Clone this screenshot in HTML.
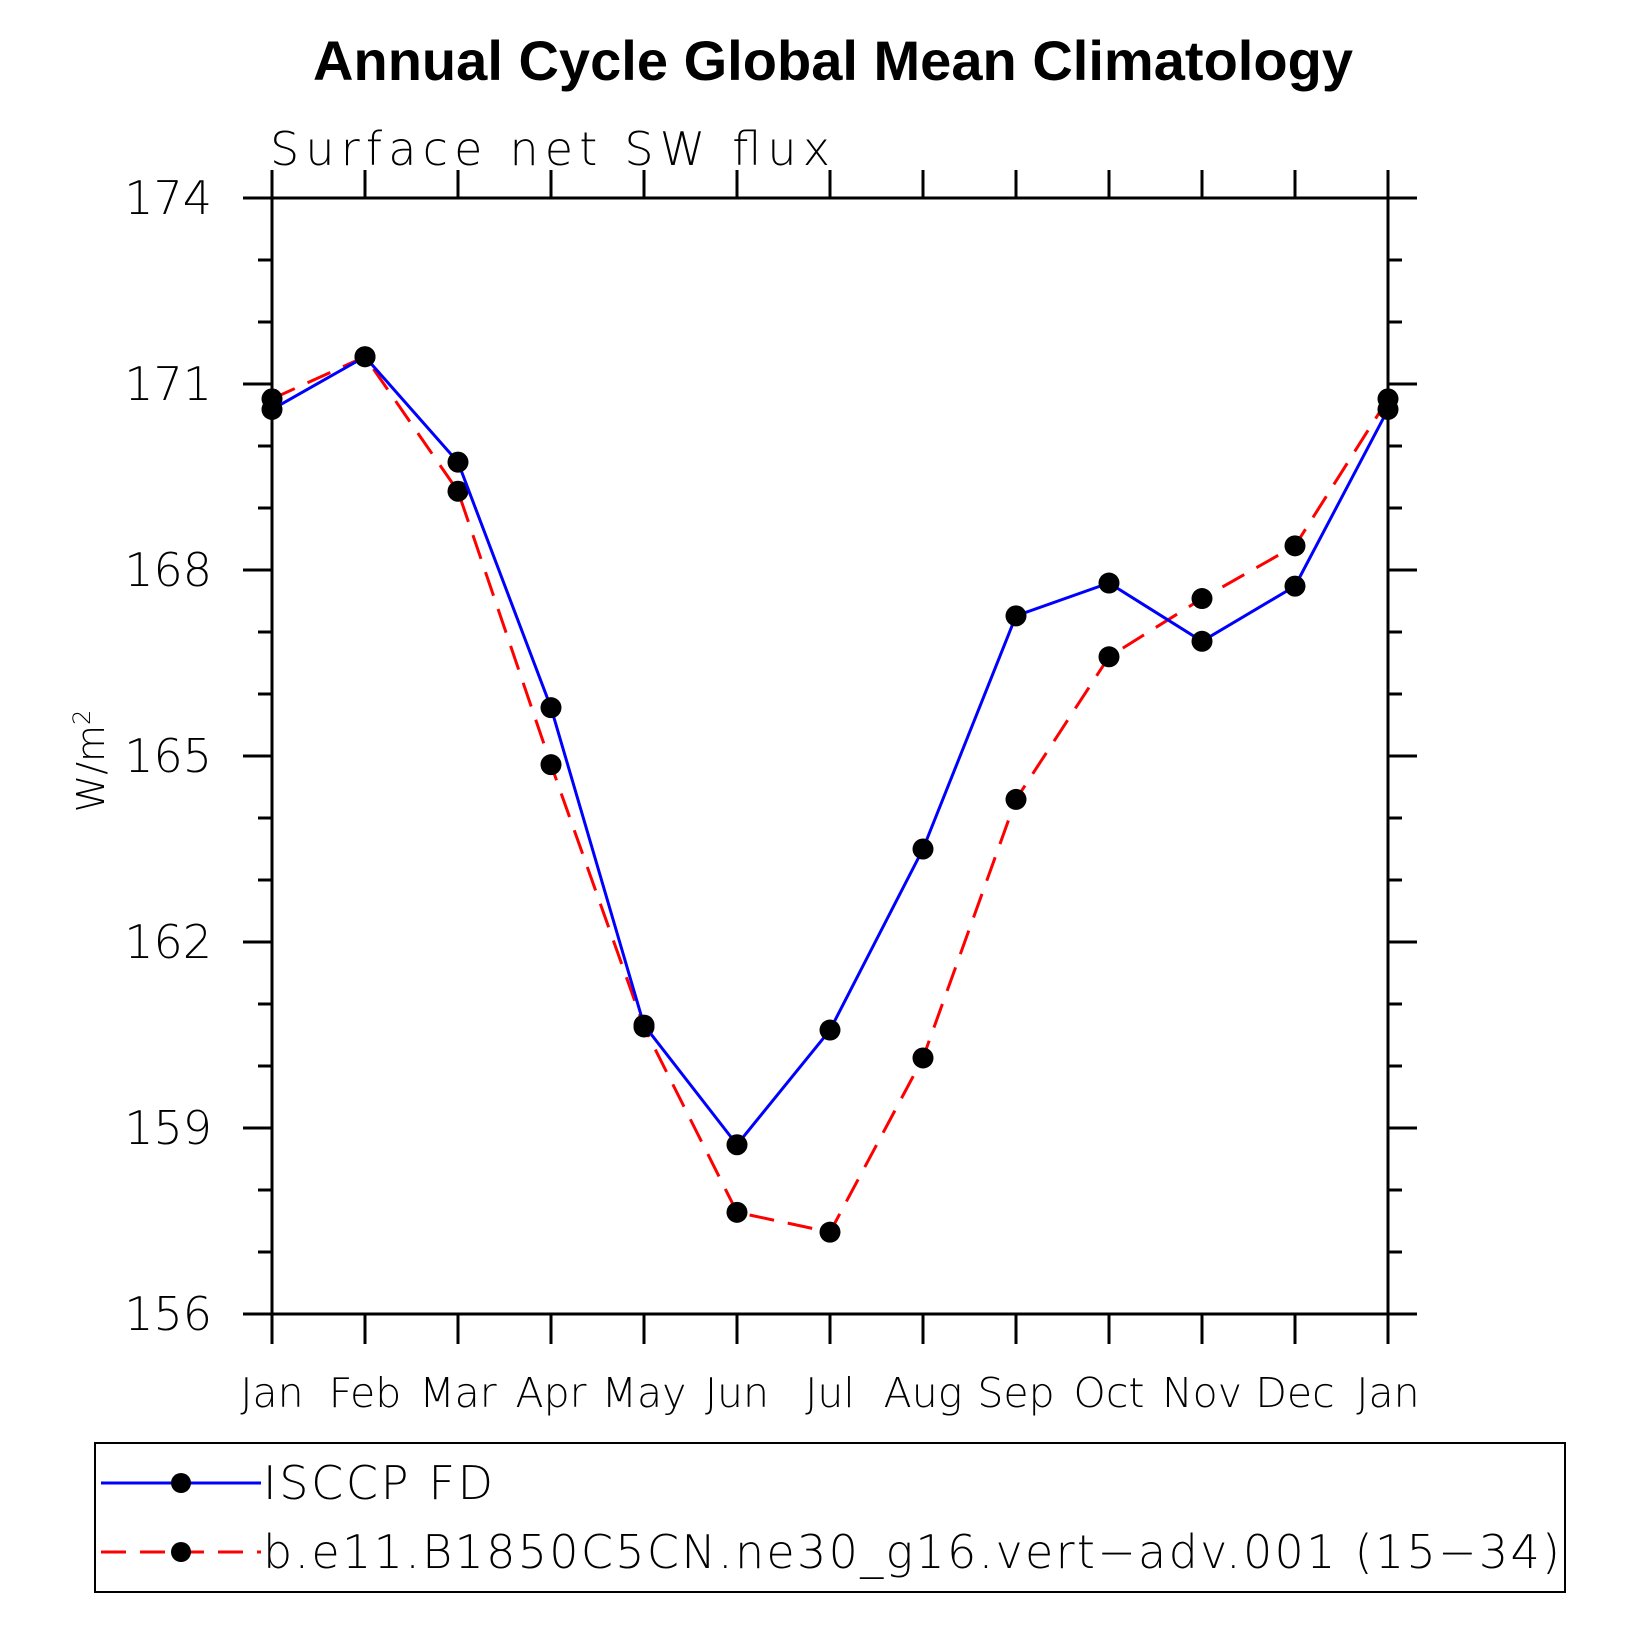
<!DOCTYPE html>
<html><head><meta charset="utf-8"><style>
html,body{margin:0;padding:0;background:#fff}
svg{display:block}
text{font-family:"DejaVu Sans","Liberation Sans",sans-serif;font-weight:200;fill:#000}
</style></head><body>
<svg id="chart" width="1631" height="1631" viewBox="0 0 1631 1631" xmlns="http://www.w3.org/2000/svg">
<text x="833" y="80" text-anchor="middle" textLength="1040" style="font-family:'Liberation Sans',sans-serif;font-weight:bold;font-size:56px">Annual Cycle Global Mean Climatology</text>
<text x="270" y="165" textLength="560" style="font-size:46px">Surface net SW flux</text>
<text transform="translate(104,761) rotate(-90)" text-anchor="middle" style="font-size:38px">W/m<tspan dy="-14" style="font-size:24px">2</tspan></text>
<g id="axes"></g>
<g id="series"></g>
<rect x="95" y="1443" width="1470" height="149" fill="none" stroke="#000" stroke-width="2"/>
<g>
<line x1="101" y1="1483" x2="261" y2="1483" stroke="#0000ff" stroke-width="3"/>
<circle cx="181" cy="1483" r="10"/>
<text x="263" y="1499" textLength="230" style="font-size:46px">ISCCP FD</text>
</g>
<g>
<line x1="101" y1="1552" x2="261" y2="1552" stroke="#ff0000" stroke-width="3" stroke-dasharray="25,14"/>
<circle cx="181" cy="1552" r="10"/>
<text x="263" y="1568" textLength="1297" style="font-size:46px">b.e11.B1850C5CN.ne30_g16.vert−adv.001 (15−34)</text>
</g>
</svg>
<script>
const months = ["Jan","Feb","Mar","Apr","May","Jun","Jul","Aug","Sep","Oct","Nov","Dec","Jan"];
const isccp = [170.59,171.44,169.74,165.78,160.66,158.73,160.58,163.50,167.26,167.79,166.85,167.74,170.59];
const model = [170.76,171.44,169.27,164.86,160.63,157.64,157.32,160.13,164.30,166.60,167.54,168.39,170.76];
const yTicks = [156,159,162,165,168,171,174];
const yMin = 156, yMax = 174;
const L=272,R=1388,T=198,B=1314;
const NS="http://www.w3.org/2000/svg";
const xs = i => L + (R-L)*i/(months.length-1);
const ys = v => B - (B-T)*(v-yMin)/(yMax-yMin);
function mk(tag,attrs,parent){const e=document.createElementNS(NS,tag);for(const k in attrs)e.setAttribute(k,attrs[k]);parent.appendChild(e);return e;}
const ax=document.getElementById('axes');
const frame=mk('rect',{x:L,y:T,width:R-L,height:B-T,fill:'none',stroke:'#000','stroke-width':3},ax);


for(let v=yMin; v<=yMax; v++){
  const y=ys(v), major=yTicks.includes(v);
  const len=major?29:14;
  const t1=mk('line',{x1:L-len,y1:y,x2:L,y2:y,stroke:'#000','stroke-width':3},ax);
  
  
  const t2=mk('line',{x1:R,y1:y,x2:R+len,y2:y,stroke:'#000','stroke-width':3},ax);
  
  
}
yTicks.forEach(v=>{
  const t=mk('text',{x:212,y:ys(v)+16,'text-anchor':'end',style:'font-size:46px'},ax);
  t.textContent=v;
  
  
});
months.forEach((m,i)=>{
  const x=xs(i);
  const a=mk('line',{x1:x,y1:B,x2:x,y2:B+30,stroke:'#000','stroke-width':3},ax);
  
  
  const b=mk('line',{x1:x,y1:T-28,x2:x,y2:T,stroke:'#000','stroke-width':3},ax);
  
  
  const t=mk('text',{x:x,y:1407,'text-anchor':'middle',style:'font-size:41px'},ax);
  t.textContent=m;
  
  
});
const sg=document.getElementById('series');
function draw(data,color,dash,name){
  const pts=data.map((v,i)=>xs(i)+','+ys(v)).join(' ');
  const pl=mk('polyline',{points:pts,fill:'none',stroke:color,'stroke-width':3,'stroke-dasharray':dash},sg);
  
  
  data.forEach((v,i)=>{
    const c=mk('circle',{cx:xs(i),cy:ys(v),r:10.5,fill:'#000'},sg);
    
    
  });
}
draw(model,'#ff0000','25,14','model');
draw(isccp,'#0000ff','none','isccp');
</script>
</body></html>
